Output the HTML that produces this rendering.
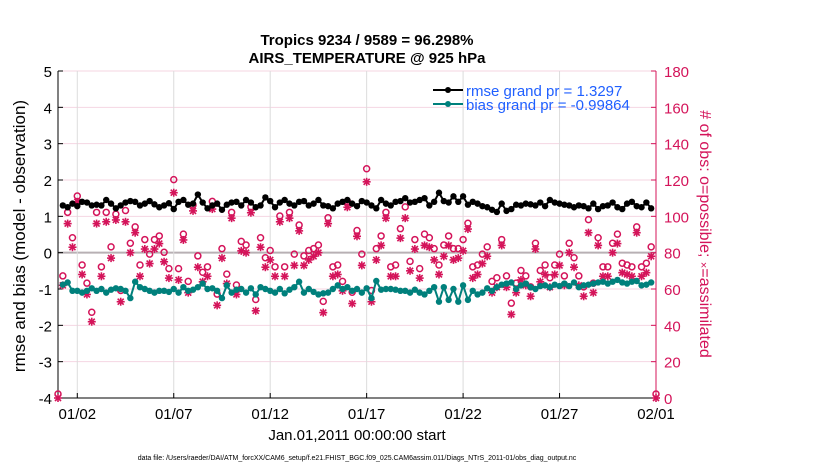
<!DOCTYPE html>
<html><head><meta charset="utf-8"><style>
body{margin:0;background:#fff;width:830px;height:470px;overflow:hidden}
svg text{font-family:"Liberation Sans",sans-serif}
</style></head><body>
<svg id="c" width="830" height="470">
<text x="367" y="45" text-anchor="middle" font-size="15" font-weight="bold">Tropics 9234 / 9589 = 96.298%</text>
<text x="367" y="63" text-anchor="middle" font-size="15" font-weight="bold">AIRS_TEMPERATURE @ 925 hPa</text>
<g id="grid"></g>
<g id="axes"></g>
<g id="marks"></g>
<g>
<line x1="433" y1="90" x2="463" y2="90" stroke="#000" stroke-width="2"/><circle cx="448" cy="90" r="3" fill="#000"/>
<text x="466" y="96" font-size="15" fill="#1f5fff">rmse grand pr = 1.3297</text>
<line x1="433" y1="104" x2="463" y2="104" stroke="#00807c" stroke-width="2"/><circle cx="448" cy="104" r="3" fill="#00807c"/>
<text x="466" y="110" font-size="15" fill="#1f5fff">bias grand pr = -0.99864</text>
</g>
<text transform="translate(25,236) rotate(-90)" text-anchor="middle" font-size="17">rmse and bias (model - observation)</text>
<text transform="translate(700,234) rotate(90)" text-anchor="middle" font-size="16" fill="#d4145a"># of obs: o=possible; <tspan font-size="11">×</tspan>=assimilated</text>
<text x="357" y="440" text-anchor="middle" font-size="15">Jan.01,2011 00:00:00 start</text>
<text x="357" y="460" text-anchor="middle" font-size="7">data file: /Users/raeder/DAI/ATM_forcXX/CAM6_setup/f.e21.FHIST_BGC.f09_025.CAM6assim.011/Diags_NTrS_2011-01/obs_diag_output.nc</text>
</svg>
<script>
const xTickLabels=["01/02","01/07","01/12","01/17","01/22","01/27","02/01"];
const xTickDays=[1,6,11,16,21,26,31];
const yLeftTicks=[-4,-3,-2,-1,0,1,2,3,4,5];
const yRightTicks=[0,20,40,60,80,100,120,140,160,180];
const rmse=[1.30,1.25,1.35,1.28,1.40,1.38,1.30,1.32,1.30,1.45,
1.35,1.22,1.30,1.38,1.42,1.40,1.30,1.35,1.42,1.33,
1.25,1.30,1.36,1.20,1.40,1.45,1.32,1.35,1.60,1.38,
1.22,1.30,1.35,1.18,1.32,1.38,1.40,1.30,1.45,1.38,
1.25,1.30,1.52,1.42,1.25,1.38,1.45,1.35,1.30,1.40,
1.42,1.30,1.35,1.45,1.30,1.28,1.22,1.35,1.40,1.45,
1.35,1.28,1.42,1.38,1.30,1.22,1.45,1.35,1.30,1.40,
1.42,1.50,1.38,1.40,1.45,1.50,1.30,1.40,1.65,1.42,
1.38,1.55,1.40,1.55,1.32,1.40,1.35,1.28,1.25,1.18,
1.12,1.35,1.15,1.20,1.32,1.30,1.35,1.33,1.30,1.38,
1.28,1.45,1.38,1.35,1.32,1.30,1.25,1.30,1.28,1.22,
1.35,1.20,1.28,1.30,1.38,1.25,1.20,1.35,1.40,1.28,
1.25,1.38,1.22];
const bias=[-0.88,-0.82,-1.05,-1.05,-1.10,-1.05,-0.98,-1.05,-1.00,-1.10,
-1.02,-0.98,-1.00,-1.05,-1.25,-0.80,-0.95,-1.00,-1.05,-1.10,
-1.05,-1.05,-1.08,-1.00,-1.10,-0.95,-1.05,-1.02,-0.95,-0.85,
-1.00,-0.98,-1.05,-1.25,-0.90,-1.10,-1.02,-1.00,-1.10,-0.98,
-1.15,-0.95,-1.00,-1.05,-1.10,-1.00,-1.12,-1.02,-0.95,-0.80,
-1.10,-1.00,-1.08,-1.15,-1.12,-1.10,-1.00,-0.90,-1.00,-0.95,
-1.05,-1.00,-1.10,-0.98,-1.25,-0.78,-1.02,-1.00,-1.00,-1.02,
-1.05,-1.05,-1.10,-1.02,-1.10,-1.15,-1.05,-0.95,-1.35,-0.95,
-1.30,-1.00,-1.35,-0.90,-1.30,-1.05,-1.15,-1.10,-0.98,-1.05,
-0.95,-0.88,-0.85,-0.82,-1.00,-0.90,-0.85,-0.95,-1.00,-0.92,
-0.90,-0.95,-0.88,-0.92,-0.85,-0.92,-0.82,-0.95,-0.90,-0.88,
-0.85,-0.82,-0.80,-0.85,-0.80,-0.75,-0.82,-0.85,-0.80,-0.78,
-0.90,-0.88,-0.82];
const nAssim=[0,62,96,83,108,68,57,42,96,67,97,
77,98,53,97,80,91,67,82,74,82,
85,75,66,113,65,87,58,103,72,64,
67,104,51,77,63,99,57,81,80,102,
48,83,72,76,67,97,67,99,73,92,
73,76,78,80,47,96,67,68,59,105,
52,89,73,119,53,76,84,99,67,67,
88,99,70,82,66,84,83,76,68,78,
84,76,77,81,93,66,68,74,78,58,
61,84,61,46,58,65,62,56,82,64,
68,61,68,73,62,80,72,62,56,91,
58,84,67,67,80,85,69,68,67,91,
67,69,78,0];
const nPoss=[0,65,100,86,109,71,61,45,100,70,100,
81,99,57,101,83,92,71,85,77,85,
87,78,69,118,69,88,62,104,76,67,
70,106,55,80,66,100,60,84,82,103,
52,86,75,79,70,98,70,100,77,93,
76,79,80,82,51,97,70,71,62,106,
56,90,77,124,57,80,87,100,70,71,
91,103,73,85,69,88,86,80,71,82,
87,80,80,85,94,70,71,77,81,62,
64,85,65,50,61,68,65,59,83,68,
71,64,71,77,65,83,75,65,59,96,
61,86,70,70,83,88,72,71,70,92,
70,72,81,0];
const X0=58,X1=656,Y0=71,Y1=398;
const xs=d=>X0+(d/31)*(X1-X0);
const yl=v=>Y1-(v+4)/9*(Y1-Y0);
const yr=v=>Y1-v/180*(Y1-Y0);
const NS="http://www.w3.org/2000/svg";
function mk(tag,attrs,parent){const e=document.createElementNS(NS,tag);for(const k in attrs)e.setAttribute(k,attrs[k]);parent.appendChild(e);return e;}
const grid=document.getElementById('grid'),axes=document.getElementById('axes'),marks=document.getElementById('marks');
yLeftTicks.forEach(v=>{
 const g=mk('line',{x1:X0,x2:X1,y1:yl(v),y2:yl(v),stroke:v===0?'#b8b0b4':'#f4d6e2','stroke-width':v===0?2:1},grid);
 
 
 mk('line',{x1:X0,x2:X0+5,y1:yl(v),y2:yl(v),stroke:'#000'},axes);
 const t=mk('text',{x:X0-6,y:yl(v)+6,'text-anchor':'end','font-size':15},axes);t.textContent=v;
 
 
});
yRightTicks.forEach(v=>{
 mk('line',{x1:X1-5,x2:X1,y1:yr(v),y2:yr(v),stroke:'#d4145a'},axes);
 const t=mk('text',{x:X1+8,y:yr(v)+6,'font-size':15,fill:'#d4145a'},axes);t.textContent=v;
 
 
});
xTickDays.forEach((d,i)=>{
 if(d<31){const g=mk('line',{x1:xs(d),x2:xs(d),y1:Y0,y2:Y1,stroke:'#dcdcdc'},grid);
 
 }
 mk('line',{x1:xs(d),x2:xs(d),y1:Y1,y2:Y1-5,stroke:'#000'},axes);
 const t=mk('text',{x:xs(d),y:Y1+21,'text-anchor':'middle','font-size':15},axes);t.textContent=xTickLabels[i];
 
 
});
mk('line',{x1:X0,x2:X0,y1:Y0,y2:Y1,stroke:'#000'},axes);
mk('line',{x1:X0,x2:X1,y1:Y1,y2:Y1,stroke:'#000'},axes);
mk('line',{x1:X1,x2:X1,y1:Y0,y2:Y1,stroke:'#d4145a'},axes);
nAssim.forEach((v,i)=>{
 const x=xs(i*0.25),y=yr(v);
 const g=mk('g',{stroke:'#d4145a','stroke-width':1.6},marks);
 
 
 const r=4;
 mk('line',{x1:x-r,x2:x+r,y1:y,y2:y},g);mk('line',{x1:x,x2:x,y1:y-r,y2:y+r},g);
 mk('line',{x1:x-3,x2:x+3,y1:y-3,y2:y+3},g);mk('line',{x1:x-3,x2:x+3,y1:y+3,y2:y-3},g);
});
nPoss.forEach((v,i)=>{
 const c=mk('circle',{cx:xs(i*0.25),cy:yr(v)-4,r:3,fill:'none',stroke:'#d4145a','stroke-width':1.5},marks);
 
 
});
function series(arr,color,name){
 const pts=arr.map((v,i)=>xs((i+1)*0.25)+','+yl(v)).join(' ');
 const p=mk('polyline',{points:pts,fill:'none',stroke:color,'stroke-width':2},marks);
 
 
 arr.forEach((v,i)=>{const c=mk('circle',{cx:xs((i+1)*0.25),cy:yl(v),r:3.2,fill:color},marks);
 
 });
}
series(bias,'#00807c','bias');
series(rmse,'#000','rmse');
</script>
</body></html>
